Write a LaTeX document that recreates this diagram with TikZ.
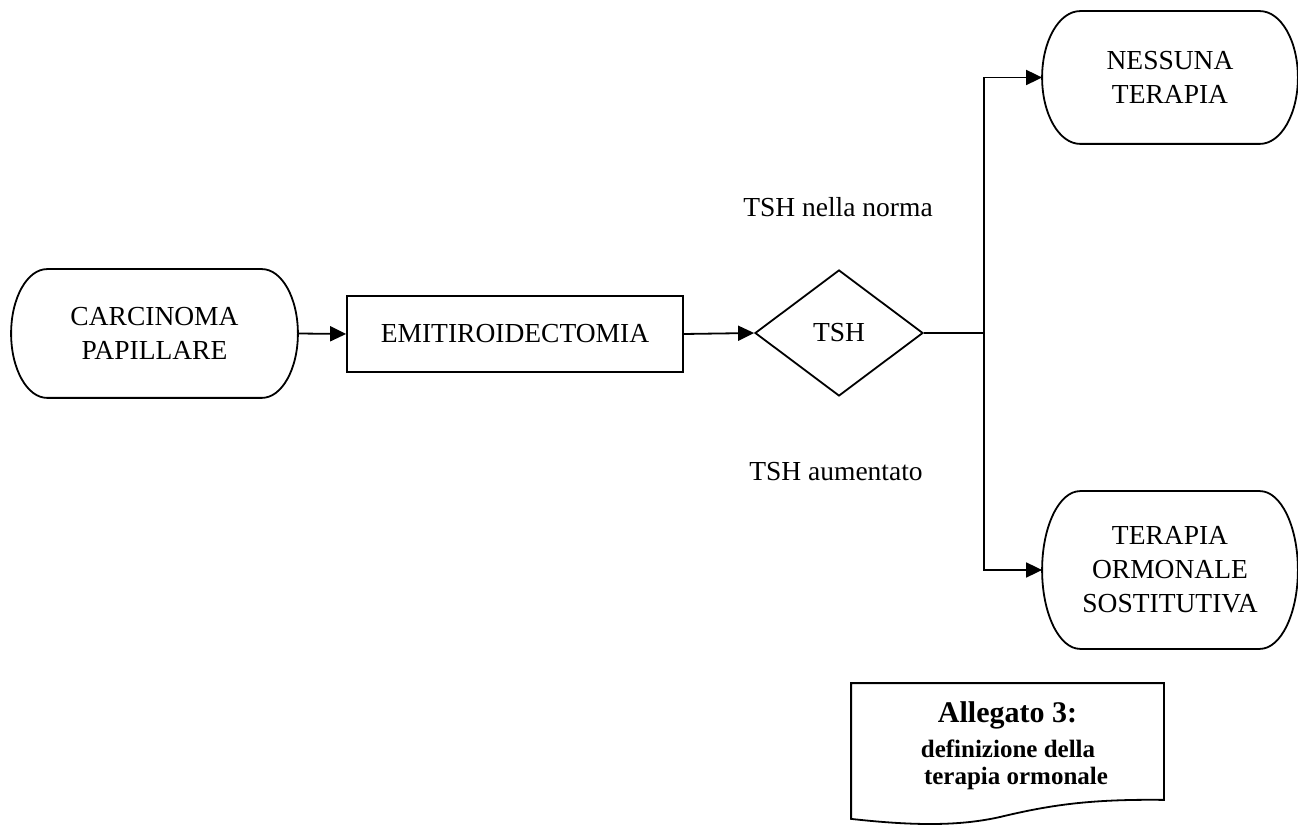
\documentclass[tikz,border=0pt]{standalone}
\usepackage{fontspec}
\setmainfont{Liberation Serif}
\usetikzlibrary{shapes.geometric,arrows.meta,calc}

% Outline of a terminator: straight top and bottom, elliptical ends
\newcommand\terminaloutline[2]{%
  \draw let \p1=(#1.north), \p2=(#1.south), \n1={(\y1-\y2)/2} in
    ([xshift=#2]#1.north west) -- ([xshift=-#2]#1.north east)
    arc[start angle=90, end angle=-90, x radius=#2, y radius=\n1]
    -- ([xshift=#2]#1.south west)
    arc[start angle=270, end angle=90, x radius=#2, y radius=\n1] -- cycle;}

\begin{document}
\begin{tikzpicture}[x=1pt, y=1pt, line width=1.8pt,
  txt/.style={font=\fontsize{27.5}{34}\selectfont, align=center},
  terminalbox/.style={txt, rectangle, inner sep=0pt},
  processbox/.style={txt, rectangle, draw, inner sep=0pt},
  decisionbox/.style={txt, diamond, draw, inner sep=0pt, aspect=1.333},
  arrow/.style={-{Triangle[length=16pt, width=15pt]}},
  notebig/.style={font=\fontsize{30}{34}\selectfont\bfseries, anchor=base},
  notesmall/.style={font=\fontsize{25}{27}\selectfont\bfseries, anchor=base}]
\useasboundingbox (0,0) rectangle (1298,825);

% Nodes of the flow
\node[terminalbox, minimum width=285pt, minimum height=127pt] (start) at (154.5,491.5) {CARCINOMA\\PAPILLARE};
\terminaloutline{start}{36pt}

\node[processbox, minimum width=336pt, minimum height=76pt] (surg) at (515,491) {EMITIROIDECTOMIA};

\node[decisionbox, minimum width=168pt, minimum height=126pt] (tsh) at (839,492) {TSH};

\node[terminalbox, minimum width=254pt, minimum height=131pt] (none) at (1170,747.5) {NESSUNA\\TERAPIA};
\terminaloutline{none}{38pt}

\node[terminalbox, minimum width=254pt, minimum height=156pt] (horm) at (1170,255) {TERAPIA\\ORMONALE\\SOSTITUTIVA};
\terminaloutline{horm}{38pt}

% Connectors
\coordinate (fork) at (984,492);
\draw[arrow] (start.east) -- (surg.west);
\draw[arrow] (surg.east) -- (tsh.west);
\draw (tsh.east) -- (fork);
\draw[arrow] (fork) |- (none.west);
\draw[arrow] (fork) |- (horm.west);

% Branch labels
\node[txt, anchor=base] (lblnorm) at (838,608) {TSH nella norma};
\node[txt, anchor=base] (lblhigh) at (836,344) {TSH aumentato};

% Document note with wavy bottom edge
\node[rectangle, inner sep=0pt, minimum width=311pt, minimum height=115pt] (doc) at (1007.5,83.5) {};
\draw (doc.south east) -- (doc.north east) -- (doc.north west) -- ([yshift=-19pt]doc.south west)
  .. controls (915,-1) and (960,-1) .. (1000,8)
  .. controls (1050,20) and (1090,26) .. (doc.south east) -- cycle;
\node[notebig] (doct1) at (1007.5,103) {Allegato 3:};
\node[notesmall] (doct2) at (1008,68) {definizione della};
\node[notesmall] (doct3) at (1016,41) {terapia ormonale};
\end{tikzpicture}
\end{document}
